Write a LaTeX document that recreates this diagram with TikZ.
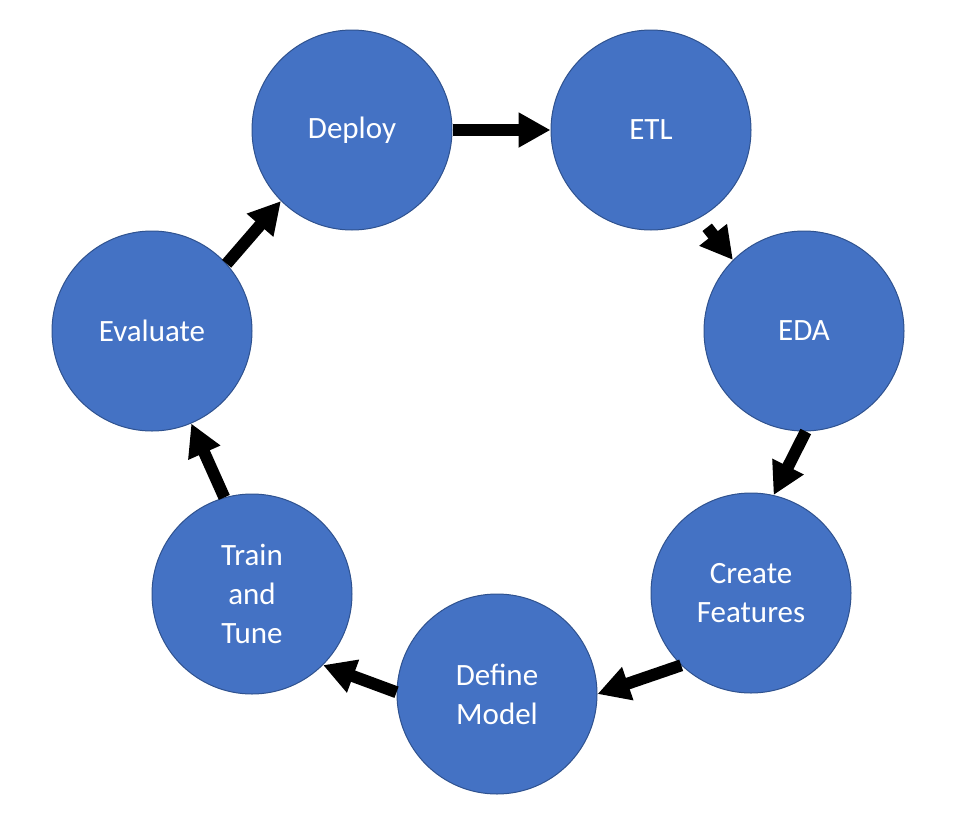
\documentclass[tikz,border=0pt]{standalone}
\usepackage{fontspec}
\setmainfont{Carlito}
\usetikzlibrary{arrows.meta}
\definecolor{stepfill}{HTML}{4472C4}
\definecolor{stepline}{HTML}{2F528F}
\begin{document}
\begin{tikzpicture}[x=1pt,y=-1pt,
  stepcircle/.style={circle, fill=stepfill, draw=stepline, line width=1pt,
    minimum size=200pt, inner sep=0pt, text=white, align=center,
    font=\fontsize{31}{39}\selectfont},
  flowarrow/.style={line width=12pt, -{Triangle[length=32pt,width=33pt]}}]
\useasboundingbox (0,0) rectangle (956,828);
\node[stepcircle] (dep) at (352,130) {Deploy};
\node[stepcircle] (etl) at (651,130) {ETL};
\node[stepcircle] (eda) at (804,331) {EDA};
\node[stepcircle] (cf)  at (751,593) {Create\\Features};
\node[stepcircle] (dm)  at (497,694) {Define\\Model};
\node[stepcircle] (tt)  at (252,594) {Train\\and\\Tune};
\node[stepcircle] (ev)  at (152,331) {Evaluate};
\draw[flowarrow] (dep.0) -- (etl.180);
\draw[flowarrow, shorten <=12pt] (etl.-61) -- (eda.135);
\draw[flowarrow] (eda.-89) -- (cf.77);
\draw[flowarrow] (cf.226) -- (dm.0);
\draw[flowarrow] (dm.179) -- (tt.-45);
\draw[flowarrow] (tt.106) -- (ev.-67);
\draw[flowarrow] (ev.42) -- (dep.225);
\end{tikzpicture}
\end{document}
